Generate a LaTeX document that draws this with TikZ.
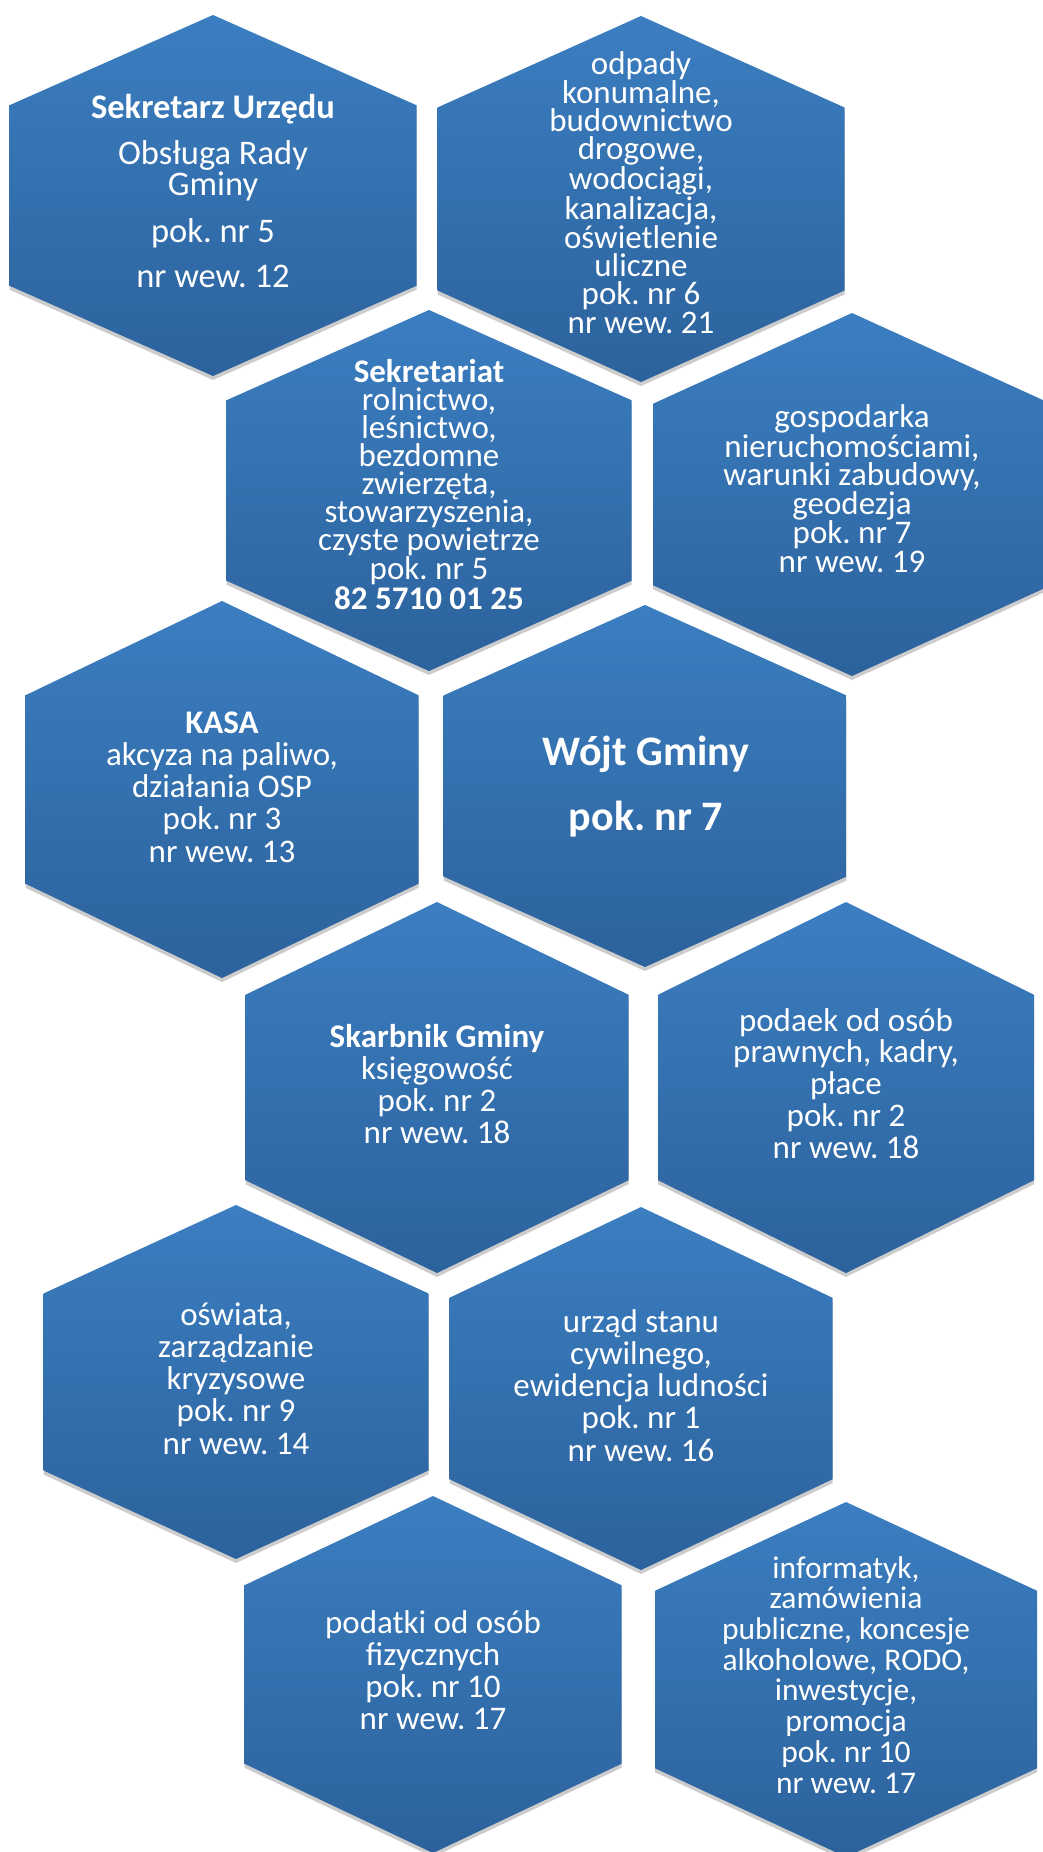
\documentclass[tikz,border=0pt]{standalone}
\usepackage{fontspec}
\setmainfont{Carlito}
\frenchspacing
\definecolor{hexTop}{RGB}{59,126,193}
\definecolor{hexMid}{RGB}{42,115,187}
\definecolor{hexBot}{RGB}{44,98,156}
\tikzstyle{hexShade} = [top color=hexTop, middle color=hexMid, bottom color=hexBot]
\tikzstyle{hexShadow} = [fill=black, opacity=0.2]
\tikzstyle{hexText} = [text=white, align=center, inner sep=0pt, anchor=base]
\newcommand{\drawHex}[4]{%
  \pgfmathsetmacro{\hexQ}{(#4-#3)/4}%
  \fill[hexShadow, yshift=-4pt] (#1,#3) -- (#1+#2,#3+\hexQ) -- (#1+#2,#4-\hexQ) -- (#1,#4) -- (#1-#2,#4-\hexQ) -- (#1-#2,#3+\hexQ) -- cycle;
  \shade[hexShade] (#1,#3) -- (#1+#2,#3+\hexQ) -- (#1+#2,#4-\hexQ) -- (#1,#4) -- (#1-#2,#4-\hexQ) -- (#1-#2,#3+\hexQ) -- cycle;
}

\begin{document}
\begin{tikzpicture}[x=1pt, y=-1pt]
        \useasboundingbox (0,0) rectangle (1043,1852);
        \clip (0,0) rectangle (1043,1852);

        \drawHex{213}{203.5}{15}{376}
        \drawHex{641}{203.5}{16}{382}
        \drawHex{429}{202.5}{310}{671}
        \drawHex{852}{199}{313}{676}
        \drawHex{222}{196.5}{601}{978}
        \drawHex{645}{201.5}{605}{967}
        \drawHex{437}{191.5}{902}{1273}
        \drawHex{846}{188}{902}{1273}
        \drawHex{236}{192.5}{1205}{1559}
        \drawHex{641}{191.5}{1207}{1570}
        \drawHex{433}{188.5}{1496}{1853}
        \drawHex{846}{191}{1502}{1857}

        \node (sekretarz) [hexText, font=\fontsize{34.5}{31}\selectfont] at (213,287) {\textbf{Sekretarz Urzędu}\\[15pt]Obsługa Rady\\Gminy\\[16pt]pok. nr 5\\[14pt]nr wew. 12};
        \node (odpady) [hexText, font=\fontsize{33}{28.1}\selectfont] at (641,333) {odpady\\konumalne,\\budownictwo\\drogowe,\\wodociągi,\\kanalizacja,\\oświetlenie\\uliczne\\pok. nr 6\\nr wew. 21};
        \node (sekretariat) [hexText, font=\fontsize{33}{28.1}\selectfont] at (429,609) {\textbf{Sekretariat}\\rolnictwo,\\leśnictwo,\\bezdomne\\zwierzęta,\\stowarzyszenia,\\czyste powietrze\\pok. nr 5\\\textbf{82 5710 01 25}};
        \node (gospodarka) [hexText, font=\fontsize{33}{28.4}\selectfont] at (852,572) {gospodarka\\nieruchomościami,\\warunki zabudowy,\\geodezja\\pok. nr 7\\nr wew. 19};
        \node (kasa) [hexText, font=\fontsize{33}{32.25}\selectfont] at (222,862) {\textbf{KASA}\\akcyza na paliwo,\\działania OSP\\pok. nr 3\\nr wew. 13};
        \node (wojt) [hexText, font=\fontsize{42}{42}\selectfont\bfseries] at (646,830) {Wójt Gminy\\[23pt]pok. nr 7};
        \node (skarbnik) [hexText, font=\fontsize{33}{32}\selectfont] at (437,1143) {\textbf{Skarbnik Gminy}\\księgowość\\pok. nr 2\\nr wew. 18};
        \node (kadry) [hexText, font=\fontsize{33}{31.75}\selectfont] at (846,1158) {podaek od osób\\prawnych, kadry,\\płace\\pok. nr 2\\nr wew. 18};
        \node (oswiata) [hexText, font=\fontsize{33}{32.25}\selectfont] at (236,1454) {oświata,\\zarządzanie\\kryzysowe\\pok. nr 9\\nr wew. 14};
        \node (usc) [hexText, font=\fontsize{33}{32.25}\selectfont] at (641,1461) {urząd stanu\\cywilnego,\\ewidencja ludności\\pok. nr 1\\nr wew. 16};
        \node (podatki) [hexText, font=\fontsize{33}{31.7}\selectfont] at (433,1729) {podatki od osób\\fizycznych\\pok. nr 10\\nr wew. 17};
        \node (informatyk) [hexText, font=\fontsize{31.5}{30.7}\selectfont] at (846,1793) {informatyk,\\zamówienia\\publiczne, koncesje\\alkoholowe, RODO,\\inwestycje,\\promocja\\pok. nr 10\\nr wew. 17};
    \end{tikzpicture}
\end{document}
